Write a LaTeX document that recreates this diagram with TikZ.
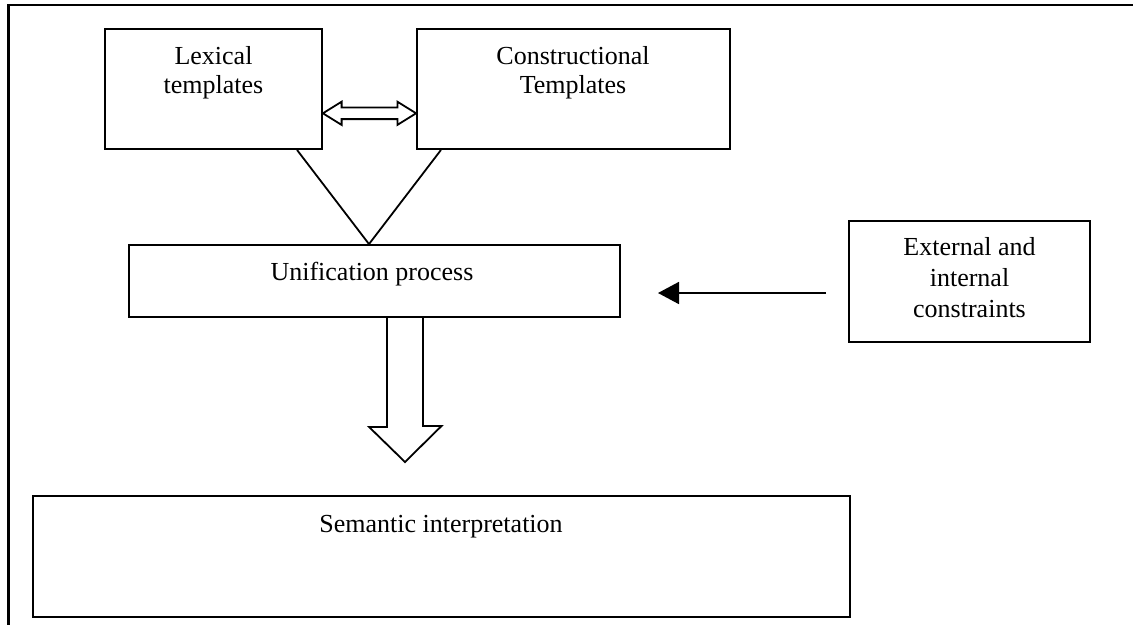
\documentclass[tikz,border=0pt]{standalone}
\usepackage{fontspec}
\setmainfont{Liberation Serif}
\usetikzlibrary{arrows.meta,calc}
\begin{document}
\begin{tikzpicture}[x=1pt,y=-1pt,
  box/.style={draw,line width=1.8pt,inner sep=0pt,rectangle},
  lbl/.style={inner sep=0pt,align=center,anchor=base,font=\fontsize{26}{29}\selectfont},
  lblw/.style={lbl,font=\fontsize{26}{31}\selectfont},
  ln/.style={line width=1.8pt},
  frame/.style={line width=2.2pt},
]
\useasboundingbox (0,0) rectangle (1133,625);
% outer frame (cropped)
\coordinate (ftr) at (1133,5);
\coordinate (ftl) at (8.5,5);
\coordinate (fbl) at (8.5,625);
\draw[frame] (ftr) -- (ftl) -- (fbl);
% boxes
\node[box,minimum width=217,minimum height=120] (lex) at (213.5,89) {};
\node[box,minimum width=313,minimum height=120] (con) at (573.5,89) {};
\node[box,minimum width=491,minimum height=72] (uni) at (374.5,281) {};
\node[box,minimum width=241,minimum height=121] (ext) at (969.5,281.5) {};
\node[box,minimum width=817,minimum height=121] (sem) at (441.5,556.5) {};
% labels (base = baseline of last line)
\node[lbl] (lext) at (213.5,93) {Lexical\\templates};
\node[lbl] (cont) at (573,93) {Constructional\\Templates};
\node[lbl] (unit) at (372,280) {Unification process};
\node[lblw] (extt) at (969.5,317) {External and\\internal\\constraints};
\node[lbl] (semt) at (441,532) {Semantic interpretation};
% double arrow between templates
\coordinate (dl) at (lex.east |- 0,113.3);
\coordinate (dr) at (con.west |- 0,113.3);
\draw[ln,line join=miter] (dl) -- ++(18.7,-11.6) -- ++(0,5.8) -- ($(dr)+(-18.7,-5.8)$) -- ++(0,-5.8)
  -- (dr) -- ++(-18.7,11.6) -- ++(0,-5.8) -- ($(dl)+(18.7,5.8)$) -- ++(0,5.8) -- cycle;
% converging lines
\coordinate (apex) at (uni.north -| 369,0);
\draw[ln] (lex.south -| 297,0) -- (apex) -- (con.south -| 441,0);
% big down arrow
\coordinate (bt) at (uni.south -| 405,0);
\coordinate (btip) at (405,462);
\draw[ln,line join=miter] ($(bt)+(-18,0)$) -- ++(0,109) -- ++(-18,0) -- (btip) -- ++(36.5,-36) -- ++(-18.5,0) -- ($(bt)+(18,0)$);
% arrow from constraints
\coordinate (as) at (826,293);
\coordinate (ae) at (658,293);
\draw[ln,-{Triangle[length=21pt,width=22pt]}] (as) -- (ae);
\end{tikzpicture}
\end{document}
